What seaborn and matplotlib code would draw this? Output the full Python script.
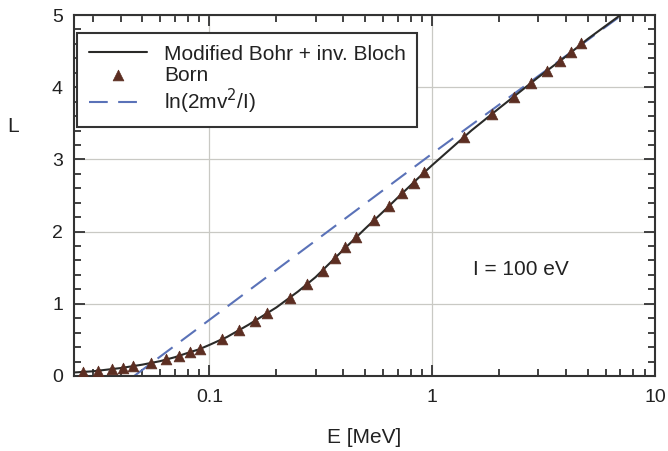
import numpy as np
import pandas as pd
import seaborn as sns
import matplotlib
matplotlib.use("Agg")
import matplotlib.pyplot as plt
from matplotlib.ticker import LogLocator, FixedLocator, FixedFormatter, MultipleLocator, NullFormatter

# Modified Bohr + inv. Bloch (solid curve)
curve_E = [0.025, 0.03, 0.04, 0.05, 0.06, 0.07, 0.08, 0.09, 0.1, 0.12, 0.15, 0.2, 0.25,
           0.3, 0.4, 0.5, 0.6, 0.7, 0.8, 0.9, 1.0, 1.5, 2.0, 3.0, 4.0, 5.0, 7.0]
curve_L = [0.05, 0.065, 0.11, 0.157, 0.205, 0.26, 0.32, 0.37, 0.43, 0.54, 0.71, 0.95, 1.17,
           1.37, 1.75, 2.04, 2.27, 2.47, 2.64, 2.79, 2.92, 3.40, 3.71, 4.14, 4.43, 4.67, 5.0]

# Born (triangles)
born_E = [0.0272, 0.0317, 0.0366, 0.041, 0.0455, 0.0548, 0.064, 0.073, 0.082, 0.091, 0.114,
          0.136, 0.161, 0.182, 0.229, 0.275, 0.323, 0.365, 0.408, 0.453, 0.547, 0.639, 0.735,
          0.828, 0.918, 1.39, 1.85, 2.32, 2.77, 3.27, 3.74, 4.19, 4.64]
born_L = [0.055, 0.07, 0.10, 0.115, 0.14, 0.175, 0.23, 0.275, 0.33, 0.38, 0.51,
          0.64, 0.76, 0.87, 1.08, 1.28, 1.46, 1.64, 1.78, 1.92, 2.16, 2.35, 2.53,
          2.68, 2.82, 3.31, 3.63, 3.87, 4.06, 4.23, 4.36, 4.49, 4.61]

# ln(2mv^2/I) (dashed)
ln_E = [0.046, 1.0, 7.1]
ln_L = [0.0, 3.08, 5.0]

x_ticks = [0.1, 1, 10]
x_tick_labels = ["0.1", "1", "10"]
y_ticks = [0, 1, 2, 3, 4, 5]

sns.set_theme(style="white")
plt.rcParams['font.family'] = ['Liberation Sans', 'DejaVu Sans']

FS = 15

fig = plt.figure(figsize=(6.68, 4.51), dpi=100)
ax = fig.add_axes([74/668, 1 - 376/451, (655 - 74)/668, (376 - 15)/451])

df_curve = pd.DataFrame({"E": curve_E, "L": curve_L})
df_born = pd.DataFrame({"E": born_E, "L": born_L})
df_ln = pd.DataFrame({"E": ln_E, "L": ln_L})

ax.set_xscale("log")
sns.lineplot(data=df_curve, x="E", y="L", ax=ax, color="#2a2a28", lw=1.5,
             label="Modified Bohr + inv. Bloch", zorder=3)
sns.scatterplot(data=df_born, x="E", y="L", ax=ax, marker="^", s=60, color="#5c2e22",
                edgecolor="#5c2e22", linewidth=0.5, label="Born", zorder=4)
sns.lineplot(data=df_ln, x="E", y="L", ax=ax, color="#5a72b8", lw=1.5,
             dashes=False, label="ln(2mv$^2$/I)", zorder=2)
ax.lines[-1].set_dashes([9, 5])

ax.set_xlim(0.0247, 10)
ax.set_ylim(0, 5)

ax.xaxis.set_major_locator(FixedLocator(x_ticks))
ax.xaxis.set_major_formatter(FixedFormatter(x_tick_labels))
ax.xaxis.set_minor_locator(LogLocator(base=10, subs=np.arange(2, 10), numticks=20))
ax.xaxis.set_minor_formatter(NullFormatter())
ax.yaxis.set_major_locator(FixedLocator(y_ticks))
ax.yaxis.set_minor_locator(MultipleLocator(0.2))

ax.tick_params(which="both", direction="in", top=True, right=True, bottom=True, left=True,
               color="#333333", width=1.3, labelsize=14, labelcolor="#222222")
ax.tick_params(which="major", length=8)
ax.tick_params(which="minor", length=5)
ax.tick_params(axis="x", which="major", pad=9.5)
ax.tick_params(axis="y", which="major", pad=8)

ax.grid(True, which="major", color="#c9c9c4", lw=0.9)
ax.set_axisbelow(True)
for sp in ax.spines.values():
    sp.set_color("#333333")
    sp.set_linewidth(1.5)

ax.set_xlabel("E [MeV]", fontsize=FS, color="#222222", labelpad=16)
ax.set_ylabel("")
fig.text(13/668, 1 - 127/451, "L", fontsize=FS, color="#222222", ha="center", va="center")

ax.text(1.52, 1.47, "I = 100 eV", fontsize=FS, color="#222222", ha="left", va="center")

leg = ax.legend(loc="upper left", bbox_to_anchor=(0.006, 0.95), fontsize=FS, frameon=True,
                fancybox=False, edgecolor="#333333", framealpha=1, handlelength=2.8,
                handletextpad=0.8, labelspacing=0.1, borderpad=0.55, borderaxespad=0.0)
leg.get_frame().set_linewidth(1.5)
for t in leg.get_texts():
    t.set_color("#222222")

fig.savefig("out.png", dpi=100)
